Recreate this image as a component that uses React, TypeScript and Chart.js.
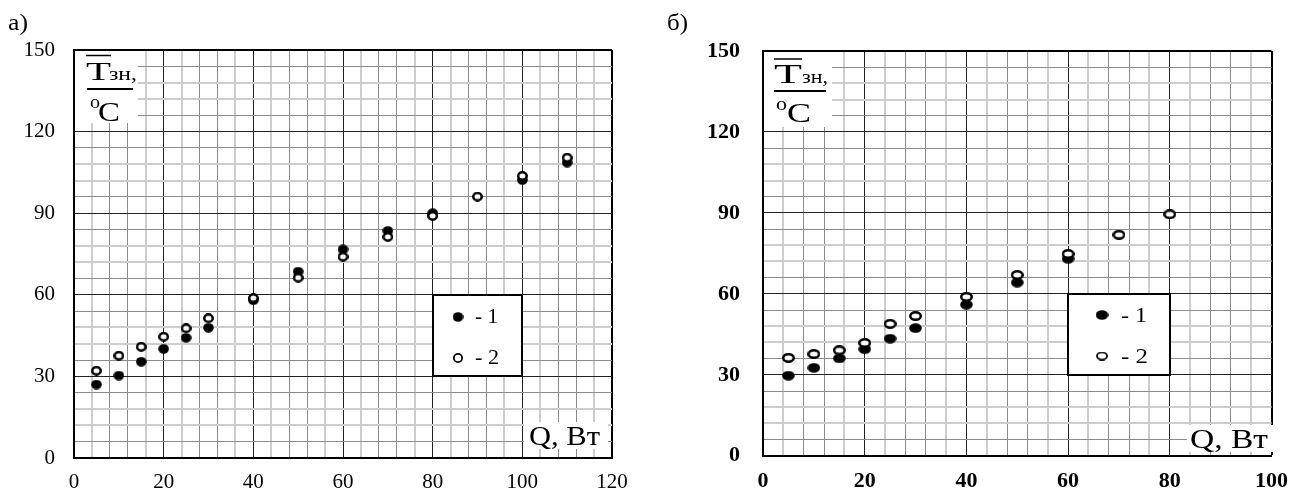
import React, { useEffect, useRef } from 'react';
import { Chart, registerables } from 'chart.js';

Chart.register(...registerables);

// ---------- Panel а) ----------
const Q_A = [5, 10, 15, 20, 25, 30, 40, 50, 60, 70, 80, 90, 100, 110];
const T1_A: (number | null)[] = [27.0, 30.3, 35.4, 40.1, 44.2, 47.9, 58.0, 68.5, 76.7, 83.5, 90.0, null, 102.2, 108.6];
const T2_A: (number | null)[] = [32.1, 37.6, 40.9, 44.6, 47.7, 51.4, 58.8, 66.3, 74.0, 81.3, 89.0, 96.1, 103.7, 110.4];
const X_TICKS_A = [0, 20, 40, 60, 80, 100, 120];

// ---------- Panel б) ----------
const Q_B = [5, 10, 15, 20, 25, 30, 40, 50, 60, 70, 80];
const T1_B: (number | null)[] = [29.7, 32.6, 36.1, 39.5, 43.4, 47.3, 56.0, 64.2, 73.0, null, null];
const T2_B: (number | null)[] = [36.3, 37.7, 39.1, 41.8, 48.9, 51.8, 58.9, 67.0, 74.8, 81.9, 89.5];
const X_TICKS_B = [0, 20, 40, 60, 80, 100];

// ---------- shared ----------
const Y_TICKS = [0, 30, 60, 90, 120, 150];
const LEGEND_LABELS = ['- 1', '- 2'];
const Y_TITLE = ['Т', 'зн,', 'o', 'C'];
const X_TITLE = 'Q, Вт';
const PANEL_LABELS = ['а)', 'б)'];

const SERIF = "'Liberation Serif', 'Times New Roman', Times, serif";

function makeMarker(w: number, h: number, filled: boolean, border: number) {
  const c = document.createElement('canvas');
  c.width = w;
  c.height = h;
  const g = c.getContext('2d')!;
  g.beginPath();
  if (filled) {
    g.ellipse(w / 2, h / 2, w / 2 - 0.2, h / 2 - 0.2, 0, 0, Math.PI * 2);
    g.fillStyle = '#000';
    g.fill();
  } else {
    g.ellipse(w / 2, h / 2, w / 2 - border / 2, h / 2 - border / 2, 0, 0, Math.PI * 2);
    g.fillStyle = '#fff';
    g.fill();
    g.lineWidth = border;
    g.strokeStyle = '#000';
    g.stroke();
  }
  return c;
}

function fitText(ctx: CanvasRenderingContext2D, text: string, left: number, base: number, width: number, font: string) {
  ctx.save();
  ctx.font = font;
  ctx.textAlign = 'left';
  ctx.textBaseline = 'alphabetic';
  const w = ctx.measureText(text).width || 1;
  ctx.translate(left, base);
  ctx.scale(width / w, 1);
  ctx.fillStyle = '#000';
  ctx.fillText(text, 0, 0);
  ctx.restore();
}

type Txt = { x: number; base: number; w: number; size: number; bold?: boolean };

type Panel = {
  label: string;
  q: number[];
  t1: (number | null)[];
  t2: (number | null)[];
  xTicks: number[];
  area: { left: number; top: number; right: number; bottom: number };
  tickFont: { size: number; weight: string };
  yPad: number;
  xPad: number;
  marker: { w: number; h: number; border: number };
  legMarker: { fw: number; fh: number; ow: number; oh: number; border: number };
  decor: {
    panel: Txt;
    titleBox: [number, number, number, number];
    T: Txt;
    zn: Txt;
    overline: [number, number, number];
    frac: [number, number, number];
    deg: Txt;
    C: Txt;
    qBox: [number, number, number, number];
    qText: Txt;
    legend: { x0: number; x1: number; y0: number; y1: number; dotDx: number; dy: number[]; textDx: number; base: number[]; textW: number[]; size: number };
  };
};

const PANELS: Panel[] = [
  {
    label: PANEL_LABELS[0],
    q: Q_A,
    t1: T1_A,
    t2: T2_A,
    xTicks: X_TICKS_A,
    area: { left: 74, top: 50, right: 612, bottom: 458 },
    tickFont: { size: 21, weight: 'normal' },
    yPad: 19,
    xPad: 12,
    marker: { w: 11, h: 10, border: 2.5 },
    legMarker: { fw: 11, fh: 10, ow: 10, oh: 10, border: 1.8 },
    decor: {
      panel: { x: 8, base: 30, w: 20, size: 24 },
      titleBox: [75, 51, 63, 72],
      T: { x: 86, base: 80, w: 25, size: 26 },
      zn: { x: 109, base: 80, w: 28, size: 18 },
      overline: [86, 111, 55.5],
      frac: [87, 133, 89],
      deg: { x: 90, base: 108, w: 10, size: 18 },
      C: { x: 98, base: 120.5, w: 22, size: 28 },
      qBox: [524, 422, 84, 27],
      qText: { x: 529, base: 445, w: 71, size: 27 },
      legend: { x0: 80, x1: 100, y0: 30, y1: 60, dotDx: 25, dy: [22, 63], textDx: 42, base: [28, 69], textW: [23, 24], size: 21 },
    },
  },
  {
    label: PANEL_LABELS[1],
    q: Q_B,
    t1: T1_B,
    t2: T2_B,
    xTicks: X_TICKS_B,
    area: { left: 113, top: 51, right: 628, bottom: 460 },
    tickFont: { size: 22, weight: 'bold' },
    yPad: 23,
    xPad: 12,
    marker: { w: 13, h: 10, border: 2.5 },
    legMarker: { fw: 13, fh: 10, ow: 12, oh: 9, border: 1.8 },
    decor: {
      panel: { x: 17, base: 30, w: 21, size: 24 },
      titleBox: [114, 52, 68, 75],
      T: { x: 124, base: 83, w: 28, size: 27 },
      zn: { x: 152, base: 83, w: 26, size: 19 },
      overline: [124, 152, 59],
      frac: [124, 176, 91],
      deg: { x: 126, base: 110, w: 11, size: 19 },
      C: { x: 137, base: 122, w: 24, size: 28 },
      qBox: [537, 425, 89, 27],
      qText: { x: 540, base: 448, w: 78, size: 27 },
      legend: { x0: 60, x1: 80, y0: 30, y1: 60, dotDx: 34, dy: [21, 62], textDx: 53, base: [28, 69], textW: [26, 27], size: 22 },
    },
  },
];

function gridOpts(axis: 'x' | 'y', major: number, max: number) {
  const minor = major / 5;
  const kind = (v: number) => {
    if (Math.abs(v - max) < 1e-6) return 'edge';
    const k = Math.round((v % major) / minor);
    if (k === 0 || k === 5) return 'major';
    const dark = axis === 'x' ? k === 2 || k === 3 : k === 1 || k === 4;
    return dark ? 'dark' : 'light';
  };
  return {
    drawTicks: false,
    color: (c: any) => {
      const t = kind(c.tick ? c.tick.value : 0);
      if (t === 'edge') return '#000';
      if (t === 'major') return '#222';
      if (t === 'dark') return '#8c8c8c';
      return '#cdcdcd';
    },
    lineWidth: (c: any) => {
      const t = kind(c.tick ? c.tick.value : 0);
      if (t === 'edge') return 2;
      if (t === 'major') return 1;
      if (t === 'dark') return 1;
      return 2;
    },
  };
}

function ChartPanel({ p, offset }: { p: Panel; offset: number }) {
  const ref = useRef<HTMLCanvasElement>(null);
  useEffect(() => {
    const canvas = ref.current!;
    const W = 650;
    const H = 492;
    const fMark = makeMarker(p.marker.w, p.marker.h, true, 0);
    const oMark = makeMarker(p.marker.w, p.marker.h, false, p.marker.border);
    const lfMark = makeMarker(p.legMarker.fw, p.legMarker.fh, true, 0);
    const loMark = makeMarker(p.legMarker.ow, p.legMarker.oh, false, p.legMarker.border);

    const pts = (ys: (number | null)[]) =>
      p.q.map((x, i) => ({ x, y: ys[i] })).filter((d) => d.y !== null) as { x: number; y: number }[];

    const xMax = p.xTicks[p.xTicks.length - 1];
    const xMajor = p.xTicks[1] - p.xTicks[0];
    const yMax = Y_TICKS[Y_TICKS.length - 1];
    const yMajor = Y_TICKS[1] - Y_TICKS[0];
    const d = p.decor;

    const decorPlugin = {
      id: 'decor',
      afterDatasetsDraw(chart: any) {
        const ctx: CanvasRenderingContext2D = chart.ctx;
        const sx = chart.scales.x;
        const sy = chart.scales.y;
        const font = (t: Txt) => `${t.bold ? 'bold ' : ''}${t.size}px ${SERIF}`;
        fitText(ctx, p.label, d.panel.x, d.panel.base, d.panel.w, font(d.panel));
        ctx.save();
        ctx.fillStyle = '#fff';
        ctx.fillRect(...d.titleBox);
        ctx.fillRect(...d.qBox);
        ctx.restore();
        fitText(ctx, Y_TITLE[0], d.T.x, d.T.base, d.T.w, font(d.T));
        fitText(ctx, Y_TITLE[1], d.zn.x, d.zn.base, d.zn.w, font(d.zn));
        fitText(ctx, Y_TITLE[2], d.deg.x, d.deg.base, d.deg.w, font(d.deg));
        fitText(ctx, Y_TITLE[3], d.C.x, d.C.base, d.C.w, font(d.C));
        ctx.save();
        ctx.strokeStyle = '#000';
        ctx.lineWidth = 1.5;
        ctx.beginPath();
        ctx.moveTo(d.overline[0], d.overline[2]);
        ctx.lineTo(d.overline[1], d.overline[2]);
        ctx.stroke();
        ctx.lineWidth = 1.8;
        ctx.beginPath();
        ctx.moveTo(d.frac[0], d.frac[2]);
        ctx.lineTo(d.frac[1], d.frac[2]);
        ctx.stroke();
        ctx.restore();
        fitText(ctx, X_TITLE, d.qText.x, d.qText.base, d.qText.w, font(d.qText));
        const L = d.legend;
        const bx0 = Math.round(sx.getPixelForValue(L.x0));
        const bx1 = Math.round(sx.getPixelForValue(L.x1));
        const by0 = Math.round(sy.getPixelForValue(L.y1));
        const by1 = Math.round(sy.getPixelForValue(L.y0));
        ctx.save();
        ctx.fillStyle = '#fff';
        ctx.fillRect(bx0, by0, bx1 - bx0, by1 - by0);
        ctx.strokeStyle = '#000';
        ctx.lineWidth = 2;
        ctx.strokeRect(bx0, by0, bx1 - bx0, by1 - by0);
        ctx.restore();
        const marks = [lfMark, loMark];
        LEGEND_LABELS.forEach((lab, i) => {
          const m = marks[i];
          ctx.drawImage(m, bx0 + L.dotDx - m.width / 2, by0 + L.dy[i] - m.height / 2);
          fitText(ctx, lab, bx0 + L.textDx, by0 + L.base[i], L.textW[i], `${L.size}px ${SERIF}`);
        });
      },
    };

    const tickFont = { family: SERIF, size: p.tickFont.size, weight: p.tickFont.weight as any };

    const chart = new Chart(canvas, {
      type: 'scatter',
      data: {
        datasets: [
          { label: LEGEND_LABELS[0], data: pts(p.t1), pointStyle: fMark as any, order: 2, showLine: false },
          { label: LEGEND_LABELS[1], data: pts(p.t2), pointStyle: oMark as any, order: 1, showLine: false },
        ],
      },
      options: {
        responsive: false,
        maintainAspectRatio: false,
        animation: false,
        devicePixelRatio: 1,
        layout: { padding: { left: 0, top: p.area.top, right: W - p.area.right, bottom: 0 } },
        plugins: { legend: { display: false }, tooltip: { enabled: false } },
        scales: {
          x: {
            type: 'linear',
            min: 0,
            max: xMax,
            afterFit: (s: any) => {
              s.height = H - p.area.bottom;
            },
            ticks: {
              stepSize: xMajor / 5,
              autoSkip: false,
              maxRotation: 0,
              padding: p.xPad,
              color: '#000',
              font: tickFont,
              callback: (v: any) => (p.xTicks.includes(Number(v)) ? String(v) : ''),
            },
            grid: gridOpts('x', xMajor, xMax) as any,
            border: { display: true, color: '#000', width: 2 },
          },
          y: {
            type: 'linear',
            min: 0,
            max: yMax,
            afterFit: (s: any) => {
              s.width = p.area.left;
            },
            ticks: {
              stepSize: yMajor / 5,
              autoSkip: false,
              padding: p.yPad,
              color: '#000',
              font: tickFont,
              callback: (v: any) => (Y_TICKS.includes(Number(v)) ? String(v) : ''),
            },
            grid: gridOpts('y', yMajor, yMax) as any,
            border: { display: true, color: '#000', width: 2 },
          },
        },
      },
      plugins: [decorPlugin as any],
    });
    let alive = true;
    const redraw = () => {
      if (alive) chart.update();
    };
    const fonts: any = (document as any).fonts;
    if (fonts && fonts.load) {
      Promise.all([
        fonts.load(`20px 'Liberation Serif'`, 'Q, Вт 0123'),
        fonts.load(`bold 20px 'Liberation Serif'`, '0123'),
      ]).then(redraw, redraw);
    }
    const t = setTimeout(redraw, 250);
    return () => {
      alive = false;
      clearTimeout(t);
      chart.destroy();
    };
  }, [p]);
  return (
    <canvas
      ref={ref}
      width={650}
      height={492}
      style={{ position: 'absolute', left: offset, top: 0, width: 650, height: 492 }}
    />
  );
}

export default function App() {
  return (
    <div style={{ position: 'absolute', left: 0, top: 0, width: 1300, height: 492, background: '#fff', overflow: 'hidden' }}>
      <span style={{ position: 'absolute', left: -9999, top: 0, fontFamily: SERIF }}>
        0123 Q, Вт <b>0123</b>
      </span>
      <ChartPanel p={PANELS[0]} offset={0} />
      <ChartPanel p={PANELS[1]} offset={650} />
    </div>
  );
}
